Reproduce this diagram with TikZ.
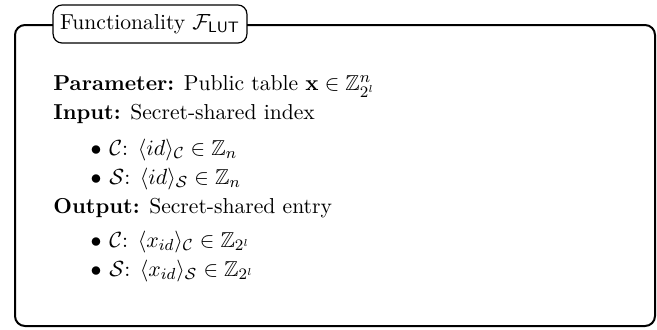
\documentclass[tikz,border=0pt]{standalone}
\usepackage{amsmath,amssymb}
\tikzset{
  frame/.style={draw, line width=1pt, rounded corners=5pt, inner sep=0pt},
  titlebox/.style={draw, line width=0.6pt, rounded corners=4.5pt, fill=white, inner xsep=3.5pt, inner ysep=0pt, minimum height=19pt},
  txt/.style={anchor=base west, inner sep=0pt},
  bul/.style={anchor=base, inner sep=0pt}
}
\begin{document}
\begin{tikzpicture}[x=0.5pt,y=-0.5pt, every node/.style={font=\fontsize{10.8}{13}\selectfont}]
\useasboundingbox (0,0) rectangle (657,329);
\node[frame, minimum width=320pt, minimum height=150.5pt] (box) at (335,175.5) {};
\node[titlebox] (title) at (150,24) {Functionality $\mathcal{F}_{\textsf{LUT}}$};
\node[txt] (param) at (53,90) {\textbf{Parameter:} Public table $\mathbf{x}\in\mathbb{Z}_{2^l}^{n}$};
\node[txt] (input) at (53,119) {\textbf{Input:} Secret-shared index};
\node[bul] (b1) at (96,155) {$\bullet$};
\node[txt] (i1) at (109,155) {$\mathcal{C}$: $\langle id\rangle_{\mathcal{C}}\in\mathbb{Z}_n$};
\node[bul] (b2) at (96,184) {$\bullet$};
\node[txt] (i2) at (109,184) {$\mathcal{S}$: $\langle id\rangle_{\mathcal{S}}\in\mathbb{Z}_n$};
\node[txt] (output) at (53,213) {\textbf{Output:} Secret-shared entry};
\node[bul] (b3) at (96,247) {$\bullet$};
\node[txt] (o1) at (109,247) {$\mathcal{C}$: $\langle x_{id}\rangle_{\mathcal{C}}\in\mathbb{Z}_{2^l}$};
\node[bul] (b4) at (96,276) {$\bullet$};
\node[txt] (o2) at (109,276) {$\mathcal{S}$: $\langle x_{id}\rangle_{\mathcal{S}}\in\mathbb{Z}_{2^l}$};
\end{tikzpicture}
\end{document}
